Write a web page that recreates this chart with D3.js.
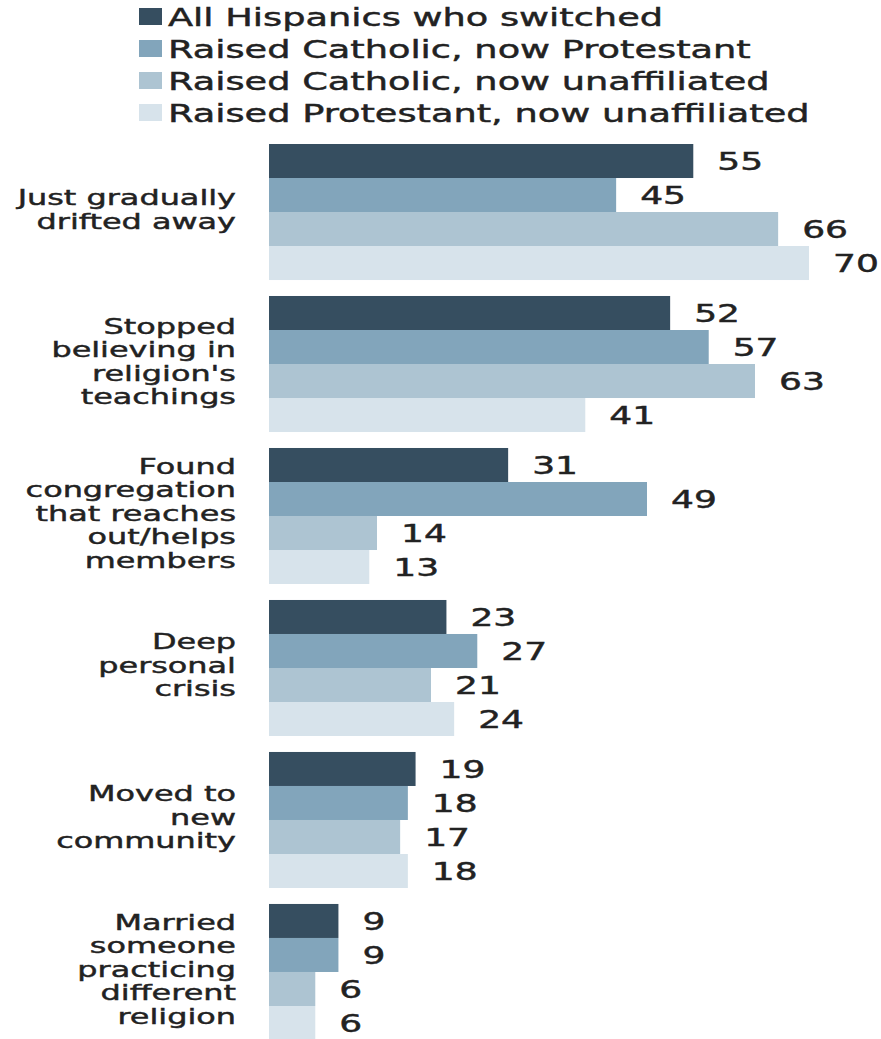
<!DOCTYPE html>
<html>
<head>
<meta charset="utf-8">
<script src="https://cdn.jsdelivr.net/npm/d3@7"></script>
<style>
  body { margin: 0; background: #fff; }
  text { font-family: "DejaVu Sans", Verdana, sans-serif; fill: #222; stroke: #222; stroke-width: 0.45px; }
</style>
</head>
<body>
<div id="chart"></div>
<script>
var categories = [
    ["Just gradually", "drifted away"],
    ["Stopped", "believing in", "religion's", "teachings"],
    ["Found", "congregation", "that reaches", "out/helps", "members"],
    ["Deep", "personal", "crisis"],
    ["Moved to", "new", "community"],
    ["Married", "someone", "practicing", "different", "religion"]
];
var seriesNames = [
    "All Hispanics who switched",
    "Raised Catholic, now Protestant",
    "Raised Catholic, now unaffiliated",
    "Raised Protestant, now unaffiliated"
];
var allSwitched = [55, 52, 31, 23, 19, 9];
var catholicToProtestant = [45, 57, 49, 27, 18, 9];
var catholicToUnaffiliated = [66, 63, 14, 21, 17, 6];
var protestantToUnaffiliated = [70, 41, 13, 24, 18, 6];
var colors = ["#364e60", "#82a5bb", "#adc4d2", "#d7e3eb"];

var series = [allSwitched, catholicToProtestant, catholicToUnaffiliated, protestantToUnaffiliated];
var width = 881, height = 1039;
var stretch = 1.45; // the picture's type is set wide

var svg = d3.select("#chart").append("svg")
    .attr("width", width)
    .attr("height", height);

var y = d3.scaleBand()
    .domain(d3.range(categories.length))
    .range([144, 1040])
    .paddingInner(0.105);

var ySeries = d3.scaleBand()
    .domain(d3.range(series.length))
    .range([0, y.bandwidth()]);

var x = d3.scaleLinear()
    .domain([0, 70])
    .range([269, 809]);

// legend
var legend = svg.append("g").selectAll("g")
    .data(seriesNames)
    .enter().append("g")
    .attr("transform", function (d, i) { return "translate(0," + (17 + i * 32) + ")"; });

legend.append("rect")
    .attr("x", 139)
    .attr("y", -9)
    .attr("width", 23)
    .attr("height", 17)
    .attr("fill", function (d, i) { return colors[i]; });

legend.append("text")
    .attr("transform", "translate(168,0) scale(1.47,1)")
    .attr("dy", "0.36em")
    .style("font-size", "25px")
    .text(String);

// groups
var groups = svg.append("g").selectAll("g")
    .data(categories)
    .enter().append("g")
    .attr("transform", function (d, i) { return "translate(0," + y(i) + ")"; });

groups.each(function (lines, ci) {
    var g = d3.select(this);
    var rows = series.map(function (s, si) { return { si: si, v: s[ci] }; });

    g.selectAll("rect")
        .data(rows)
        .enter().append("rect")
        .attr("x", x(0))
        .attr("y", function (d) { return ySeries(d.si); })
        .attr("width", function (d) { return x(d.v) - x(0); })
        .attr("height", ySeries.bandwidth())
        .attr("fill", function (d) { return colors[d.si]; });

    g.selectAll("text.value")
        .data(rows)
        .enter().append("text")
        .attr("class", "value")
        .attr("transform", function (d) {
            return "translate(" + (x(d.v) + 24) + "," + (ySeries(d.si) + ySeries.bandwidth() / 2) + ") scale(1.5,1)";
        })
        .attr("dy", "0.36em")
        .style("font-size", "24px")
        .text(function (d) { return d.v; });

    var mid = y.bandwidth() / 2 - 3;
    g.selectAll("text.label")
        .data(lines)
        .enter().append("text")
        .attr("class", "label")
        .attr("text-anchor", "end")
        .attr("transform", function (d, i) {
            return "translate(236," + (mid + (i - (lines.length - 1) / 2) * 23.5) + ") scale(" + stretch + ",1)";
        })
        .attr("dy", "0.36em")
        .style("font-size", "22px")
        .text(String);
});
</script>
</body>
</html>
